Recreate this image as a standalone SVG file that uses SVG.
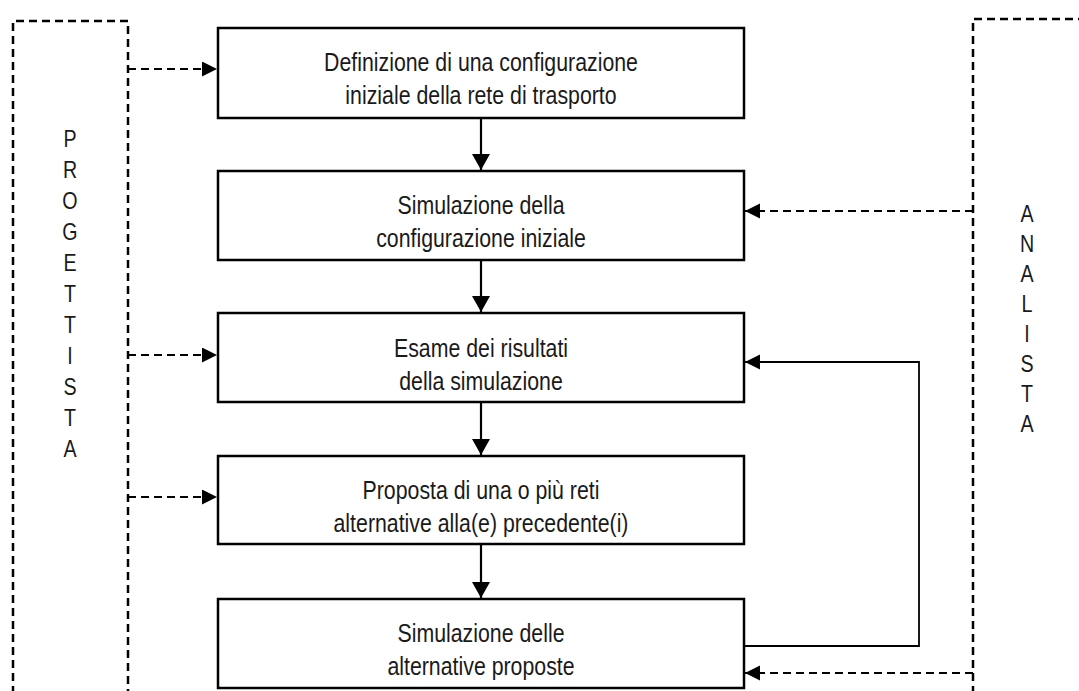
<svg xmlns="http://www.w3.org/2000/svg" width="1079" height="691" viewBox="0 0 1079 691">
  <style>
    .box { fill: #ffffff; stroke: #000000; stroke-width: 2.5; }
    .lane { fill: none; stroke: #000000; stroke-width: 2.5; stroke-dasharray: 8 5; }
    .flow { fill: none; stroke: #000000; stroke-width: 2.2; }
    .loop { fill: none; stroke: #000000; stroke-width: 1.8; }
    .dash { fill: none; stroke: #000000; stroke-width: 2.2; stroke-dasharray: 8 5; }
    .label { font-family: "Liberation Sans", Arial, sans-serif; font-size: 26px; fill: #1a1a1a; text-anchor: middle; }
    .side { font-family: "Liberation Sans", Arial, sans-serif; font-size: 24px; fill: #1a1a1a; text-anchor: middle; }
  </style>
  <defs>
    <marker id="head" markerUnits="userSpaceOnUse" markerWidth="17" markerHeight="16" refX="15" refY="7.5" orient="auto">
      <path d="M0,0 L15,7.5 L0,15 Z" fill="#000000"/>
    </marker>
    <marker id="head-down" markerUnits="userSpaceOnUse" markerWidth="18" markerHeight="19" refX="16" refY="9" orient="auto">
      <path d="M0,0 L16,9 L0,18 Z" fill="#000000"/>
    </marker>
  </defs>

  <rect width="1079" height="691" fill="#ffffff"/>

  <!-- Side lanes -->
  <g id="lane-progettista">
    <path class="lane" d="M13,694 V21 H128 V694"/>
    <g transform="translate(70,0) scale(0.82,1)">
      <text class="side" x="0" y="147">P</text>
      <text class="side" x="0" y="178">R</text>
      <text class="side" x="0" y="209">O</text>
      <text class="side" x="0" y="240">G</text>
      <text class="side" x="0" y="271">E</text>
      <text class="side" x="0" y="302">T</text>
      <text class="side" x="0" y="333">T</text>
      <text class="side" x="0" y="364">I</text>
      <text class="side" x="0" y="395">S</text>
      <text class="side" x="0" y="426">T</text>
      <text class="side" x="0" y="457">A</text>
    </g>
  </g>
  <g id="lane-analista">
    <path class="lane" d="M973,694 V19 H1082"/>
    <g transform="translate(1027,0) scale(0.82,1)">
      <text class="side" x="0" y="222">A</text>
      <text class="side" x="0" y="252">N</text>
      <text class="side" x="0" y="282">A</text>
      <text class="side" x="0" y="312">L</text>
      <text class="side" x="0" y="342">I</text>
      <text class="side" x="0" y="372">S</text>
      <text class="side" x="0" y="402">T</text>
      <text class="side" x="0" y="432">A</text>
    </g>
  </g>

  <!-- Process steps -->
  <g id="step-1">
    <rect class="box" x="218" y="28" width="526" height="90"/>
    <g transform="translate(481,0) scale(0.82,1)">
      <text class="label" x="0" y="71">Definizione di una configurazione</text>
      <text class="label" x="0" y="104">iniziale della rete di trasporto</text>
    </g>
  </g>
  <g id="step-2">
    <rect class="box" x="218" y="171" width="526" height="89"/>
    <g transform="translate(481,0) scale(0.82,1)">
      <text class="label" x="0" y="214">Simulazione della</text>
      <text class="label" x="0" y="247">configurazione iniziale</text>
    </g>
  </g>
  <g id="step-3">
    <rect class="box" x="218" y="313" width="526" height="89"/>
    <g transform="translate(481,0) scale(0.82,1)">
      <text class="label" x="0" y="357">Esame dei risultati</text>
      <text class="label" x="0" y="390">della simulazione</text>
    </g>
  </g>
  <g id="step-4">
    <rect class="box" x="218" y="456" width="526" height="88"/>
    <g transform="translate(481,0) scale(0.82,1)">
      <text class="label" x="0" y="499">Proposta di una o più reti</text>
      <text class="label" x="0" y="532">alternative alla(e) precedente(i)</text>
    </g>
  </g>
  <g id="step-5">
    <rect class="box" x="218" y="599" width="526" height="89"/>
    <g transform="translate(481,0) scale(0.82,1)">
      <text class="label" x="0" y="642">Simulazione delle</text>
      <text class="label" x="0" y="675">alternative proposte</text>
    </g>
  </g>

  <!-- Connectors -->
  <g id="connectors">
    <path class="flow" d="M481,118 V170" marker-end="url(#head-down)"/>
    <path class="flow" d="M481,260 V312" marker-end="url(#head-down)"/>
    <path class="flow" d="M481,402 V455" marker-end="url(#head-down)"/>
    <path class="flow" d="M481,544 V598" marker-end="url(#head-down)"/>
    <path class="loop" d="M744,646 H919 V362 H745" marker-end="url(#head)"/>
    <path class="dash" d="M128,69 H217" marker-end="url(#head)"/>
    <path class="dash" d="M128,355 H217" marker-end="url(#head)"/>
    <path class="dash" d="M128,497 H217" marker-end="url(#head)"/>
    <path class="dash" d="M973,211 H745" marker-end="url(#head)"/>
    <path class="dash" d="M973,673 H745" marker-end="url(#head)"/>
  </g>
</svg>
